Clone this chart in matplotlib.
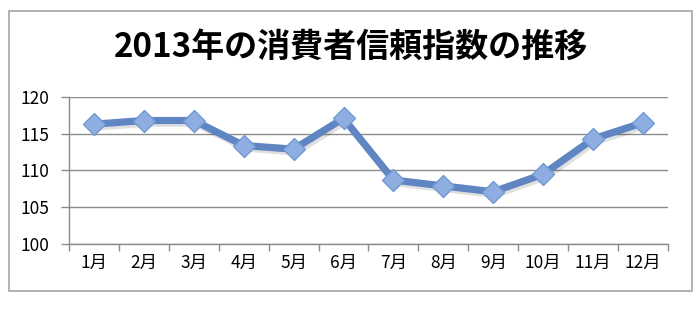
import matplotlib
matplotlib.use('Agg')
import matplotlib.pyplot as plt
import matplotlib.patheffects as pe
from matplotlib.patches import Rectangle

plt.rcParams['font.family'] = ['Noto Sans CJK JP', 'DejaVu Sans']

# data
months = ['1月', '2月', '3月', '4月', '5月', '6月',
          '7月', '8月', '9月', '10月', '11月', '12月']
index_values = [116.3, 116.8, 116.8, 113.4, 112.9, 117.1,
                108.7, 107.9, 107.1, 109.5, 114.3, 116.5]
y_ticks = [100, 105, 110, 115, 120]
title = '2013年の消費者信頼指数の推移'

fig = plt.figure(figsize=(7, 3.09), dpi=100)
W, H = 700, 309

# outer chart border
fig.patches.append(Rectangle((8.5 / W, 1 - 291 / H), (692 - 8.5) / W, (291 - 11) / H,
                             transform=fig.transFigure, fill=False,
                             edgecolor='#a6a6a6', linewidth=1.2))

ax = fig.add_axes([69 / W, 1 - 244 / H, (668 - 69) / W, (244 - 97) / H])
x = list(range(len(months)))
ax.plot(x, index_values, color='#5f86c2', linewidth=5.2, zorder=3,
        solid_joinstyle='round', solid_capstyle='round',
        path_effects=[pe.SimpleLineShadow(offset=(1.5, -2), alpha=0.12), pe.Normal()])
ax.plot(x, index_values, linestyle='none', marker='D', markersize=11,
        markerfacecolor='#8eaee2', markeredgecolor='#7098d3', markeredgewidth=1,
        zorder=4)

ax.set_xlim(-0.5, 11.5)
ax.set_ylim(100, 120)
ax.set_yticks(y_ticks)
ax.set_yticklabels([str(v) for v in y_ticks], fontsize=12.5)
ax.set_xticks(x)
ax.set_xticklabels(months, fontsize=12.5)
ax.tick_params(axis='x', length=0, pad=7)
ax.set_xticks([i - 0.5 for i in range(len(months) + 1)], minor=True)
ax.tick_params(axis='x', which='minor', length=5, color='#8c8c8c', width=1)
ax.tick_params(axis='y', length=6, color='#8c8c8c', width=1, pad=8)
ax.yaxis.grid(True, color='#8c8c8c', linewidth=1)
ax.set_axisbelow(True)
for side in ['top', 'right']:
    ax.spines[side].set_visible(False)
for side in ['left', 'bottom']:
    ax.spines[side].set_color('#8c8c8c')
    ax.spines[side].set_linewidth(1)

fig.text(351 / W, 1 - 47 / H, title, ha='center', va='center',
         fontsize=23.8, fontweight='bold')

fig.savefig('out.png', dpi=100)
